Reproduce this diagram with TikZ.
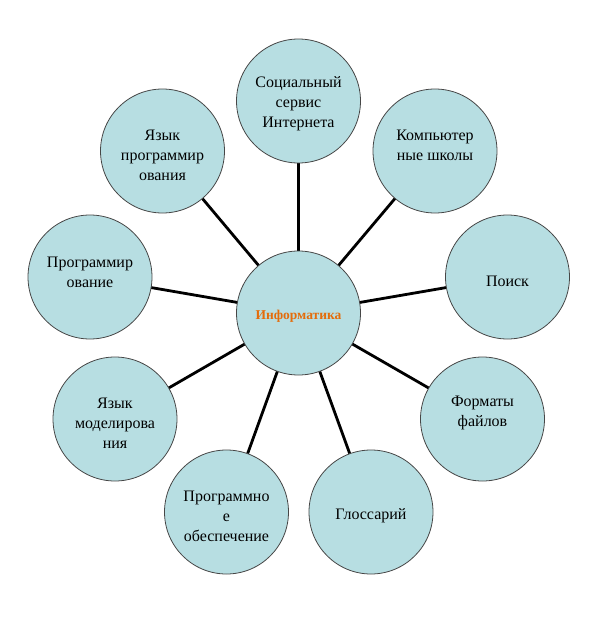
\documentclass[tikz,border=0pt]{standalone}
\usepackage{fontspec}
\setmainfont{Liberation Serif}
\usetikzlibrary{backgrounds}
\definecolor{bubble}{RGB}{183,222,226}
\definecolor{rim}{RGB}{70,70,70}
\definecolor{hub}{RGB}{228,108,10}
\tikzset{
  bub/.style={circle,minimum size=124pt,inner sep=0pt,fill=bubble,draw=rim,line width=0.8pt},
  lbl/.style={align=center,font=\fontsize{16}{20}\selectfont,inner sep=0pt},
  spoke/.style={line width=2.8pt,black}
}
\begin{document}
\begin{tikzpicture}[x=1pt,y=-1pt]
\useasboundingbox (0,0) rectangle (598,627);
% circles
\node[bub] (c) at (298.5,313) {};
\node[bub] (soc) at (298.5,101) {};
\node[bub] (komp) at (435,151) {};
\node[bub] (poisk) at (507.5,277) {};
\node[bub] (form) at (482.5,419) {};
\node[bub] (glos) at (371,512) {};
\node[bub] (po) at (226.5,512) {};
\node[bub] (model) at (115,419) {};
\node[bub] (prog) at (90,277) {};
\node[bub] (yaz) at (162.5,151) {};
% spokes
\begin{pgfonlayer}{background}
\foreach \n in {soc,komp,poisk,form,glos,po,model,prog,yaz}
  \draw[spoke] (c.center) -- (\n.center);
\end{pgfonlayer}
% labels
\node[lbl,font=\fontsize{13.5}{16}\selectfont\bfseries,text=hub] (tc) at (298.5,316) {Информатика};
\node[lbl] (tsoc) at (298.5,104) {Социальный\\сервис\\Интернета};
\node[lbl] (tkomp) at (435,145) {Компьютер\\ные школы};
\node[lbl] (tpoisk) at (507.5,281) {Поиск};
\node[lbl] (tform) at (482.5,413) {Форматы\\файлов};
\node[lbl] (tglos) at (371,516) {Глоссарий};
\node[lbl] (tpo) at (226.5,516) {Программно\\е\\обеспечение};
\node[lbl] (tmodel) at (115,423) {Язык\\моделирова\\ния};
\node[lbl] (tprog) at (90,272) {Программир\\ование};
\node[lbl] (tyaz) at (162.5,155) {Язык\\программир\\ования};
\end{tikzpicture}
\end{document}
